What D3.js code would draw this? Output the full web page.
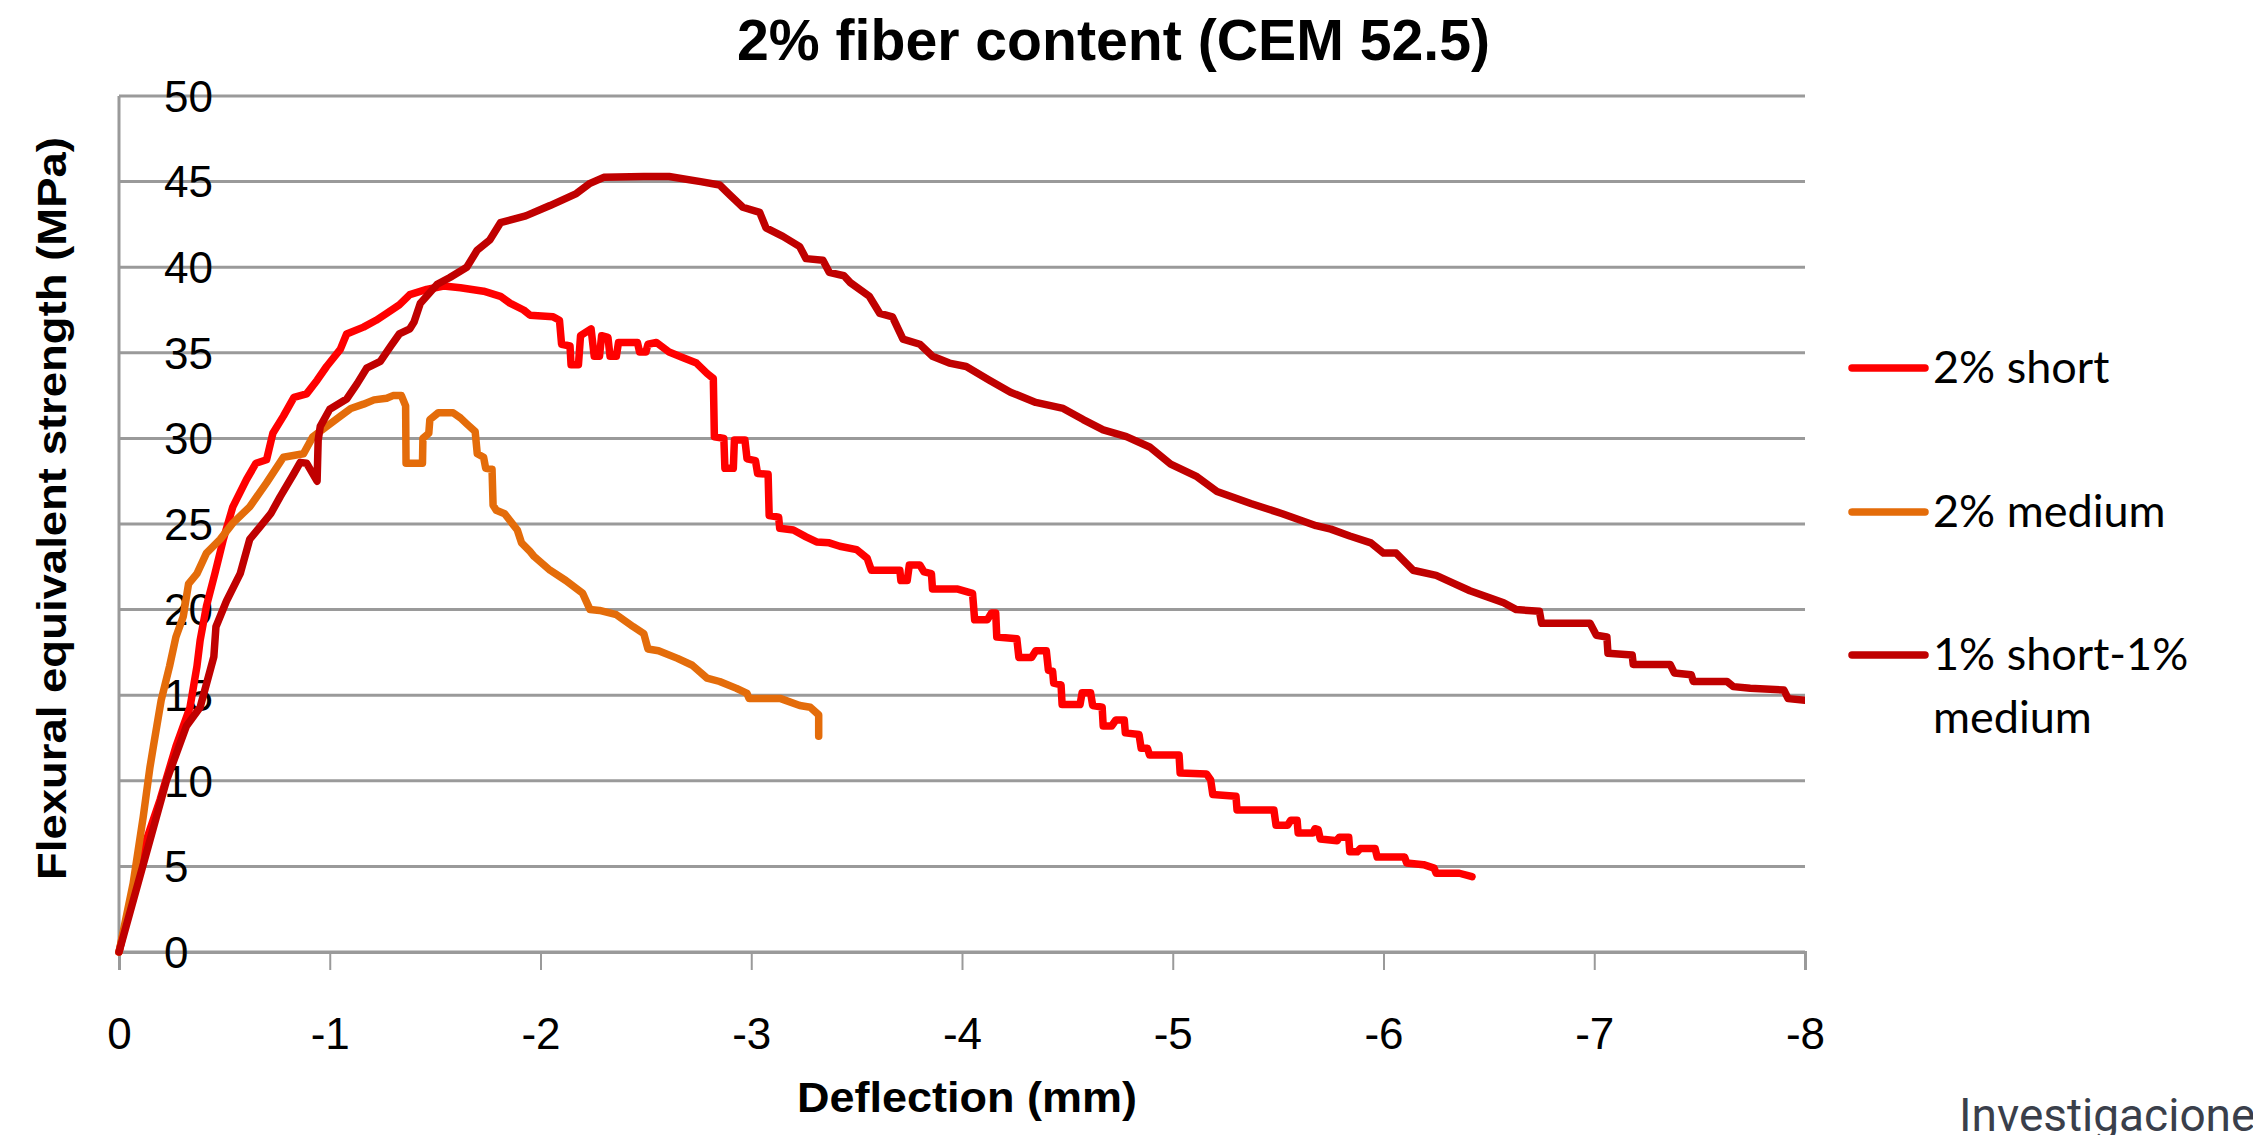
<!DOCTYPE html>
<html>
<head>
<meta charset="utf-8">
<script src="https://cdn.jsdelivr.net/npm/d3@7"></script>
<style>
  html, body { margin: 0; padding: 0; background: #fff; overflow: hidden; }
</style>
</head>
<body>
<div id="chart"></div>
<script>
// Data: [deflection (mm), flexural equivalent strength (MPa)]
const short2 = [
  [0,0],[-0.115,6.0],[-0.195,8.9],[-0.27,12.0],[-0.337,14.3],[-0.37,16.7],[-0.385,18.2],[-0.415,20.2],
  [-0.455,22.1],[-0.495,24.1],[-0.54,26.0],[-0.605,27.6],[-0.65,28.55],[-0.70,28.75],[-0.73,30.3],
  [-0.78,31.3],[-0.83,32.4],[-0.89,32.6],[-0.94,33.4],[-0.985,34.2],[-1.05,35.2],[-1.08,36.1],
  [-1.16,36.5],[-1.22,36.9],[-1.27,37.3],[-1.33,37.8],[-1.38,38.4],[-1.46,38.7],[-1.54,38.9],
  [-1.62,38.8],[-1.73,38.6],[-1.81,38.3],[-1.855,37.9],[-1.92,37.5],[-1.95,37.2],[-2.06,37.1],
  [-2.09,36.9],[-2.10,35.5],[-2.14,35.4],[-2.145,34.3],[-2.18,34.3],[-2.19,36.0],[-2.24,36.4],
  [-2.255,34.8],[-2.28,34.8],[-2.29,36.0],[-2.32,35.9],[-2.33,34.8],[-2.36,34.8],[-2.37,35.6],
  [-2.46,35.6],[-2.47,35.05],[-2.50,35.05],[-2.51,35.5],[-2.55,35.6],[-2.61,35.05],[-2.68,34.7],
  [-2.74,34.4],[-2.79,33.8],[-2.82,33.5],[-2.825,30.1],[-2.87,30.0],[-2.875,28.25],[-2.915,28.25],
  [-2.92,29.9],[-2.97,29.9],[-2.98,28.8],[-3.02,28.7],[-3.03,27.95],[-3.08,27.9],[-3.085,25.5],
  [-3.13,25.4],[-3.135,24.75],[-3.20,24.65],[-3.26,24.25],[-3.31,23.95],[-3.37,23.9],[-3.42,23.7],
  [-3.50,23.5],[-3.55,23.0],[-3.57,22.3],[-3.705,22.3],[-3.71,21.7],[-3.74,21.7],[-3.75,22.6],
  [-3.80,22.6],[-3.82,22.2],[-3.855,22.1],[-3.86,21.2],[-3.98,21.2],[-4.05,20.95],[-4.06,19.4],
  [-4.12,19.4],[-4.14,19.8],[-4.16,19.8],[-4.165,18.4],[-4.26,18.3],[-4.27,17.2],[-4.33,17.2],
  [-4.35,17.6],[-4.40,17.6],[-4.41,16.45],[-4.43,16.4],[-4.435,15.7],[-4.47,15.6],[-4.475,14.45],
  [-4.56,14.45],[-4.57,15.15],[-4.61,15.15],[-4.62,14.4],[-4.665,14.3],[-4.67,13.2],[-4.71,13.2],
  [-4.73,13.55],[-4.77,13.55],[-4.775,12.8],[-4.84,12.7],[-4.85,11.9],[-4.88,11.9],[-4.89,11.5],
  [-5.03,11.5],[-5.035,10.45],[-5.16,10.4],[-5.18,10.05],[-5.19,9.2],[-5.30,9.1],[-5.305,8.3],
  [-5.48,8.3],[-5.49,7.4],[-5.545,7.4],[-5.56,7.7],[-5.59,7.7],[-5.595,6.95],[-5.665,6.95],
  [-5.675,7.2],[-5.69,7.15],[-5.70,6.6],[-5.78,6.5],[-5.79,6.7],[-5.835,6.7],[-5.84,5.85],
  [-5.875,5.85],[-5.89,6.05],[-5.96,6.05],[-5.97,5.55],[-6.10,5.55],[-6.11,5.2],[-6.19,5.1],
  [-6.24,4.9],[-6.25,4.6],[-6.36,4.6],[-6.42,4.4]
];

const medium2 = [
  [0,0],[-0.067,4.0],[-0.115,7.9],[-0.147,10.8],[-0.163,12.0],[-0.20,14.7],[-0.24,16.7],[-0.27,18.4],
  [-0.305,19.6],[-0.33,21.5],[-0.37,22.1],[-0.415,23.3],[-0.48,24.1],[-0.54,25.05],[-0.62,26.0],
  [-0.70,27.4],[-0.78,28.9],[-0.875,29.1],[-0.92,30.1],[-0.985,30.7],[-1.05,31.3],[-1.10,31.75],
  [-1.16,32.0],[-1.21,32.25],[-1.27,32.35],[-1.30,32.5],[-1.34,32.5],[-1.36,31.9],[-1.362,28.55],
  [-1.44,28.55],[-1.442,30.0],[-1.47,30.3],[-1.475,31.1],[-1.515,31.5],[-1.585,31.5],[-1.62,31.2],
  [-1.65,30.85],[-1.69,30.4],[-1.70,29.1],[-1.73,28.9],[-1.74,28.25],[-1.77,28.2],[-1.775,26.1],
  [-1.79,25.8],[-1.83,25.6],[-1.855,25.2],[-1.89,24.65],[-1.91,23.9],[-1.95,23.4],[-1.97,23.1],
  [-2.045,22.3],[-2.12,21.7],[-2.20,20.95],[-2.235,20.0],[-2.28,19.95],[-2.36,19.7],[-2.44,19.0],
  [-2.49,18.6],[-2.51,17.7],[-2.56,17.6],[-2.65,17.15],[-2.72,16.75],[-2.79,16.0],[-2.85,15.8],
  [-2.93,15.4],[-2.98,15.1],[-2.99,14.8],[-3.14,14.8],[-3.23,14.4],[-3.28,14.3],[-3.32,13.85],
  [-3.32,12.6]
];

const shortMedium1 = [
  [0,0],[-0.225,10.0],[-0.32,13.2],[-0.385,14.3],[-0.45,17.25],[-0.46,19.0],[-0.51,20.5],[-0.575,22.1],
  [-0.62,24.1],[-0.67,24.85],[-0.72,25.6],[-0.765,26.6],[-0.83,27.95],[-0.86,28.6],[-0.89,28.55],
  [-0.94,27.5],[-0.945,29.9],[-0.955,30.7],[-1.0,31.7],[-1.08,32.3],[-1.13,33.2],[-1.175,34.1],
  [-1.24,34.5],[-1.29,35.4],[-1.33,36.1],[-1.38,36.4],[-1.40,36.8],[-1.43,37.9],[-1.51,39.0],
  [-1.57,39.4],[-1.65,40.0],[-1.70,41.0],[-1.76,41.6],[-1.81,42.6],[-1.93,43.0],[-2.045,43.6],
  [-2.17,44.3],[-2.235,44.9],[-2.30,45.25],[-2.49,45.3],[-2.61,45.3],[-2.76,45.0],[-2.85,44.8],
  [-2.90,44.2],[-2.96,43.5],[-3.04,43.2],[-3.07,42.3],[-3.15,41.8],[-3.23,41.2],[-3.26,40.5],
  [-3.34,40.4],[-3.37,39.7],[-3.44,39.5],[-3.47,39.1],[-3.56,38.3],[-3.61,37.3],[-3.67,37.1],
  [-3.72,35.8],[-3.80,35.5],[-3.86,34.8],[-3.94,34.4],[-4.02,34.2],[-4.13,33.4],[-4.23,32.7],
  [-4.35,32.1],[-4.48,31.75],[-4.575,31.1],[-4.67,30.5],[-4.78,30.1],[-4.89,29.5],[-4.99,28.5],
  [-5.11,27.8],[-5.21,26.9],[-5.37,26.2],[-5.52,25.6],[-5.68,24.9],[-5.75,24.7],[-5.84,24.3],
  [-5.94,23.9],[-6.00,23.3],[-6.06,23.3],[-6.14,22.3],[-6.25,22.0],[-6.32,21.6],[-6.41,21.1],
  [-6.49,20.75],[-6.57,20.4],[-6.63,20.0],[-6.74,19.9],[-6.75,19.2],[-6.98,19.2],[-7.01,18.5],
  [-7.06,18.4],[-7.065,17.45],[-7.18,17.35],[-7.185,16.8],[-7.36,16.8],[-7.38,16.3],[-7.46,16.2],
  [-7.47,15.8],[-7.63,15.8],[-7.66,15.5],[-7.74,15.4],[-7.90,15.3],[-7.92,14.8],[-8.0,14.7]
];

const seriesNames = ["2% short", "2% medium", "1% short-1% medium"];
const seriesColors = ["#ff0000", "#e46c0a", "#c00000"];
const xTicks = [0, -1, -2, -3, -4, -5, -6, -7, -8];
const yTicks = [0, 5, 10, 15, 20, 25, 30, 35, 40, 45, 50];

// chart frame
const W = 2253, H = 1135;
const plot = { left: 119, right: 1805, top: 96, bottom: 952 };

const svg = d3.select("#chart")
  .append("svg")
  .attr("width", W)
  .attr("height", H)
  .style("display", "block")
  .style("background", "#fff");

const x = d3.scaleLinear().domain([0, -8]).range([plot.left, plot.right]);
const y = d3.scaleLinear().domain([0, 50]).range([plot.bottom, plot.top]);

// horizontal gridlines
svg.append("g")
  .selectAll("line")
  .data(yTicks)
  .enter()
  .append("line")
  .attr("x1", plot.left)
  .attr("x2", plot.right)
  .attr("y1", d => y(d))
  .attr("y2", d => y(d))
  .attr("stroke", "#9a9a9a")
  .attr("stroke-width", 3);

// y axis line
svg.append("line")
  .attr("x1", plot.left).attr("x2", plot.left)
  .attr("y1", plot.top).attr("y2", plot.bottom)
  .attr("stroke", "#9a9a9a")
  .attr("stroke-width", 3);

// x axis (ticks pointing down, labels set lower)
const xAxis = svg.append("g")
  .attr("transform", `translate(0, ${plot.bottom})`)
  .call(d3.axisBottom(x).tickValues(xTicks).tickSize(18).tickPadding(48).tickFormat(d3.format("d")));

xAxis.select(".domain").attr("stroke", "#9a9a9a").attr("stroke-width", 3);
xAxis.selectAll(".tick line").attr("stroke", "#9a9a9a").attr("stroke-width", 2);
xAxis.selectAll(".tick text")
  .attr("fill", "#000")
  .style("font-family", "'Liberation Sans', Arial, sans-serif")
  .style("font-size", "44px")
  .text(d => d === 0 ? "0" : "-" + Math.abs(d));

// y tick labels sit inside the plot, left aligned
svg.append("g")
  .selectAll("text")
  .data(yTicks)
  .enter()
  .append("text")
  .attr("x", 164)
  .attr("y", d => y(d))
  .attr("dy", "0.36em")
  .style("font-family", "'Liberation Sans', Arial, sans-serif")
  .style("font-size", "44px")
  .attr("fill", "#000")
  .text(d => d);

// lines
const line = d3.line()
  .x(d => x(d[0]))
  .y(d => y(d[1]));

svg.append("clipPath")
  .attr("id", "plotclip")
  .append("rect")
  .attr("x", plot.left - 10)
  .attr("y", plot.top - 10)
  .attr("width", plot.right - plot.left + 10)
  .attr("height", plot.bottom - plot.top + 20);

const lines = svg.append("g").attr("clip-path", "url(#plotclip)");
[short2, medium2, shortMedium1].forEach((data, i) => {
  lines.append("path")
    .datum(data)
    .attr("fill", "none")
    .attr("stroke", seriesColors[i])
    .attr("stroke-width", 7.5)
    .attr("stroke-linejoin", "round")
    .attr("stroke-linecap", "round")
    .attr("d", line);
});

// title
svg.append("text")
  .attr("x", 737)
  .attr("y", 60)
  .attr("textLength", 753)
  .attr("lengthAdjust", "spacingAndGlyphs")
  .style("font-family", "'Liberation Sans', Arial, sans-serif")
  .style("font-weight", "bold")
  .style("font-size", "58px")
  .text("2% fiber content (CEM 52.5)");

// x axis label
svg.append("text")
  .attr("x", 797)
  .attr("y", 1112)
  .attr("textLength", 340)
  .attr("lengthAdjust", "spacingAndGlyphs")
  .style("font-family", "'Liberation Sans', Arial, sans-serif")
  .style("font-weight", "bold")
  .style("font-size", "42px")
  .text("Deflection (mm)");

// y axis label
svg.append("text")
  .attr("transform", "translate(66, 880) rotate(-90)")
  .attr("textLength", 743)
  .attr("lengthAdjust", "spacingAndGlyphs")
  .style("font-family", "'Liberation Sans', Arial, sans-serif")
  .style("font-weight", "bold")
  .style("font-size", "41px")
  .text("Flexural equivalent strength (MPa)");

// legend
const legendY = [368, 512, 655];
const legend = svg.append("g");
seriesNames.forEach((name, i) => {
  legend.append("line")
    .attr("x1", 1852).attr("x2", 1925)
    .attr("y1", legendY[i]).attr("y2", legendY[i])
    .attr("stroke", seriesColors[i])
    .attr("stroke-width", 7.5)
    .attr("stroke-linecap", "round");

  const t = legend.append("text")
    .attr("x", 1933)
    .attr("y", legendY[i] + 15)
    .style("font-family", "Lato, 'Open Sans', sans-serif")
    .style("font-size", "45px")
    .attr("fill", "#000");

  if (name === "1% short-1% medium") {
    t.append("tspan").attr("x", 1933).text("1% short-1%");
    t.append("tspan").attr("x", 1933).attr("dy", 63).text("medium");
  } else {
    t.text(name);
  }
});

// source watermark, cut at the right edge like the original
svg.append("text")
  .attr("x", 1959)
  .attr("y", 1131)
  .style("font-family", "Roboto, sans-serif")
  .style("font-size", "46px")
  .attr("fill", "#3a3f4b")
  .text("Investigaciones");
</script>
</body>
</html>
